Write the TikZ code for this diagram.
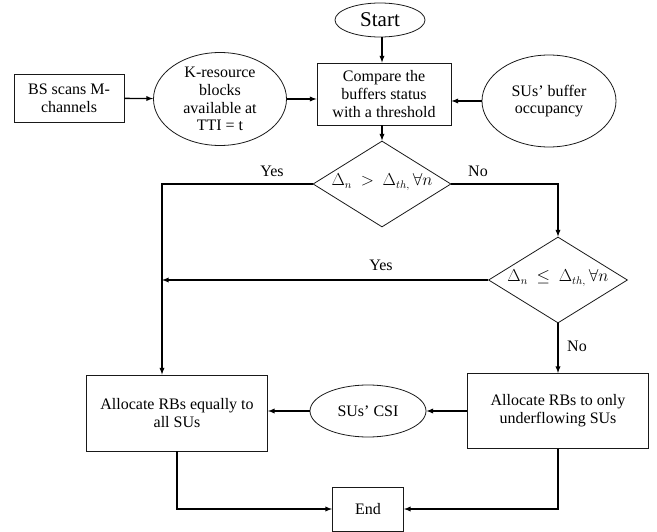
\documentclass[tikz,border=0pt]{standalone}
\usepackage{fontspec}
\setmainfont{Liberation Serif}
\usetikzlibrary{shapes.geometric}
\tikzset{
	txt/.style={font=\fontsize{16}{17.7}\selectfont, align=center, inner sep=0pt},
	box/.style={txt, draw=black!90, line width=0.8pt, rectangle},
	oval/.style={txt, draw=black!90, line width=0.8pt, ellipse},
	decide/.style={txt, draw=black!90, line width=0.8pt, diamond, text height=5pt, text depth=1pt},
	flow/.style={draw=black, -latex, line width=1.3pt},
}
\newcommand{\condtext}[1]{\makebox[80pt]{$#1$}}
\begin{document}
\begin{tikzpicture}[x=1pt, y=-1pt]
			\useasboundingbox (0,0) rectangle (657,532);
			% nodes
			\node[oval, minimum width=90pt, minimum height=34pt, font=\fontsize{21}{23}\selectfont] (start) at (380,20) {Start};
			\node[box, minimum width=134pt, minimum height=62pt] (compare) at (384,94) {Compare the\\buffers status\\with a threshold};
			\node[box, minimum width=110pt, minimum height=48pt] (bs) at (69,98) {BS scans M-\\channels};
			\node[oval, minimum width=133pt, minimum height=93pt] (kres) at (220,99) {K-resource\\blocks\\available at\\TTI = t};
			\node[oval, minimum width=134pt, minimum height=92pt] (buffer) at (549,101) {SUs' buffer\\occupancy};
			\node[decide, minimum width=138pt, minimum height=75pt] (dec1) at (382,184) {\condtext{\Delta_n\ >\ \Delta_{th,}\,\forall n}};
			\node[decide, minimum width=139pt, minimum height=77pt] (dec2) at (558,280) {\condtext{\Delta_n\ \leq\ \Delta_{th,}\,\forall n}};
			\node[box, minimum width=181pt, minimum height=76pt] (alleq) at (177,413) {Allocate RBs equally to\\all SUs};
			\node[oval, minimum width=116pt, minimum height=52pt] (csi) at (368,411) {SUs' CSI};
			\node[box, minimum width=181pt, minimum height=75pt] (allonly) at (558,411) {Allocate RBs to only\\underflowing SUs};
			\node[box, minimum width=71pt, minimum height=44pt] (end) at (368,509) {End};
			% labels
			\node[txt] (yes1) at (272,171) {Yes};
			\node[txt] (no1) at (478,171) {No};
			\node[txt] (yes2) at (381,265) {Yes};
			\node[txt] (no2) at (577,346) {No};
			\coordinate (yesline) at (162,184);
			% connectors
			\draw[flow] (start.south -| dec1) -- (compare.north -| dec1);
			\draw[flow] (bs) -- (kres);
			\draw[flow] (kres.east) -- (compare.west |- kres.east);
			\draw[flow] (buffer.west) -- (compare.east |- buffer.west);
			\draw[flow] (compare.south -| dec1) -- (dec1);
			\draw[flow] (dec1.west) -- (yesline) -- (yesline |- alleq.north);
			\draw[flow] (dec1.east) -| (dec2.north);
			\draw[flow] (dec2.west) -- (yesline |- dec2.west);
			\draw[flow] (dec2) -- (allonly);
			\draw[flow] (allonly) -- (csi);
			\draw[flow] (csi.west) -- (alleq.east |- csi.west);
			\draw[flow] (alleq.south) |- (end.west);
			\draw[flow] (allonly.south) |- (end.east);
\end{tikzpicture}
\end{document}
